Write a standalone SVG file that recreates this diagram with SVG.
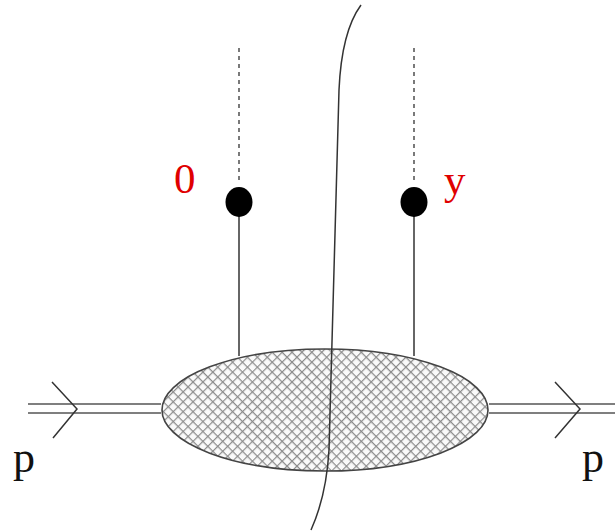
<svg xmlns="http://www.w3.org/2000/svg" width="615" height="532" viewBox="0 0 615 532">
<style>
.ln{stroke:#333;stroke-width:1.5;fill:none}
.dash{stroke:#333;stroke-width:1.3;stroke-dasharray:4,4;fill:none}
.dbl{stroke:#555;stroke-width:1.6;fill:none}
.lab{font-family:"Liberation Serif",serif;fill:#e00000}
.p{font-family:"Liberation Serif",serif;fill:#111;font-size:44px}
</style>
<defs>
<pattern id="hatch" width="7" height="7" patternUnits="userSpaceOnUse" patternTransform="rotate(45)">
<rect width="7" height="7" fill="#fafafa"/>
<path d="M0 0 H7 M0 0 V7" stroke="#8c8c8c" stroke-width="2.4"/>
</pattern>
</defs>
<g id="connectors">
<path class="dash" d="M239 48 V180"/>
<path class="ln" d="M239 202 V356"/>
<path class="dash" d="M414 48 V180"/>
<path class="ln" d="M414 202 V356"/>
<path class="dbl" d="M28 404 H161 M28 413 H161"/>
<path class="ln" d="M52 382 L77 409 L53 438"/>
<path class="dbl" d="M489 404 H615 M489 413 H615"/>
<path class="ln" d="M555 382 L580 409 L555 438"/>
</g>
<g id="blob">
<ellipse cx="325" cy="410" rx="163" ry="61" fill="url(#hatch)" stroke="#444" stroke-width="1.6"/>
</g>
<g id="cut">
<path class="ln" d="M361 5 C350 20 341 45 339 90 L329 450 C327 485 320 510 311 530"/>
</g>
<g id="v0">
<ellipse cx="239" cy="202" rx="13.5" ry="15" fill="#000"/>
<text class="lab" x="174" y="193" font-size="43">0</text>
</g>
<g id="vy">
<ellipse cx="414" cy="202" rx="13.5" ry="15" fill="#000"/>
<text class="lab" x="444" y="194" font-size="43">y</text>
</g>
<g id="pin"><text class="p" x="13" y="472">p</text></g>
<g id="pout"><text class="p" x="582" y="472">p</text></g>
</svg>
